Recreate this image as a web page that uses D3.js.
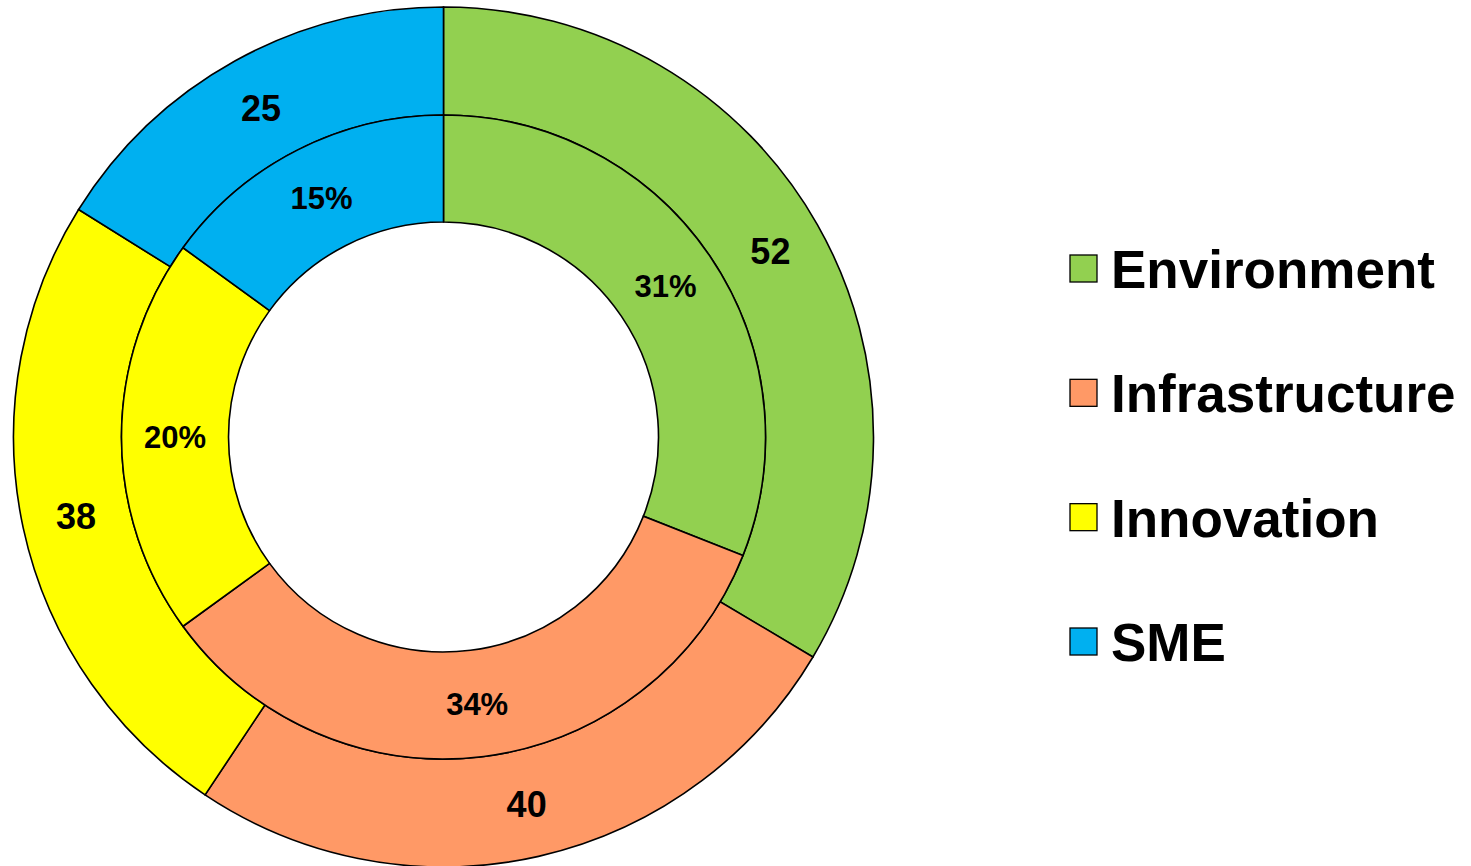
<!DOCTYPE html>
<html><head><meta charset="utf-8">
<script src="https://cdn.jsdelivr.net/npm/d3@7"></script>
<style>html,body{margin:0;padding:0;background:#fff;}svg{display:block;}</style>
</head><body>
<svg id="chart" width="1471" height="866"></svg>
<script>
const categories = ["Environment", "Infrastructure", "Innovation", "SME"];
const outerValues = [52, 40, 38, 25];
const innerValues = [31, 34, 20, 15];
const innerLabels = ["31%", "34%", "20%", "15%"];
const colors = ["#92D050", "#FF9966", "#FFFF00", "#00B0F0"];

const svg = d3.select("#chart");
const cx = 443.5, cy = 437;
const rOuter = 430, rMid = 322, rInner = 215;
const g = svg.append("g").attr("transform", `translate(${cx},${cy})`);
const pie = d3.pie().sort(null).value(d => d);

const outerArc = d3.arc().innerRadius(rMid).outerRadius(rOuter);
const innerArc = d3.arc().innerRadius(rInner).outerRadius(rMid);

const od = pie(outerValues);
const id = pie(innerValues);

g.selectAll("path.outer").data(od).enter().append("path")
  .attr("class", "outer").attr("d", outerArc)
  .attr("fill", (d, i) => colors[i]).attr("stroke", "#000").attr("stroke-width", 1.6);
g.selectAll("path.inner").data(id).enter().append("path")
  .attr("class", "inner").attr("d", innerArc)
  .attr("fill", (d, i) => colors[i]).attr("stroke", "#000").attr("stroke-width", 1.6);

g.selectAll("text.outer").data(od).enter().append("text")
  .attr("transform", d => `translate(${outerArc.centroid(d)})`)
  .attr("text-anchor", "middle").attr("dy", "0.36em")
  .attr("font-family", "Liberation Sans, Arial, sans-serif").attr("font-weight", "bold")
  .attr("font-size", 36).text(d => d.data);
g.selectAll("text.inner").data(id).enter().append("text")
  .attr("transform", d => `translate(${innerArc.centroid(d)})`)
  .attr("text-anchor", "middle").attr("dy", "0.36em")
  .attr("font-family", "Liberation Sans, Arial, sans-serif").attr("font-weight", "bold")
  .attr("font-size", 31).text((d, i) => innerLabels[i]);

const legend = svg.append("g");
const ly = d3.scalePoint().domain(categories).range([269, 642]);
const items = legend.selectAll("g").data(categories).enter().append("g")
  .attr("transform", d => `translate(1070,${ly(d)})`);
items.append("rect").attr("x", 0).attr("y", -14).attr("width", 27).attr("height", 27)
  .attr("fill", (d, i) => colors[i]).attr("stroke", "#000").attr("stroke-width", 1.3);
items.append("text").attr("x", 41).attr("y", 0).attr("dy", "0.36em")
  .attr("font-family", "Liberation Sans, Arial, sans-serif").attr("font-weight", "bold")
  .attr("font-size", 53).text(d => d);
</script>
</body></html>
